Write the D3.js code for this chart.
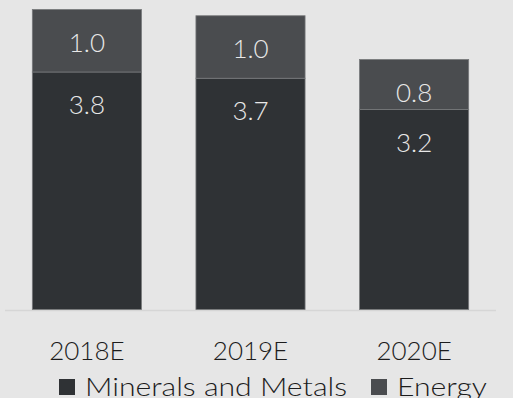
<!DOCTYPE html>
<html>
<head>
<meta charset="utf-8">
<script src="https://cdn.jsdelivr.net/npm/d3@7"></script>
<style>
  html, body { margin: 0; padding: 0; background: #e6e6e6; }
  svg { display: block; font-family: Lato, "Open Sans", sans-serif; font-weight: 300; }
</style>
</head>
<body>
<svg id="chart" width="513" height="398"></svg>
<script>
// Stacked revenue estimates by year
const categories = ["2018E", "2019E", "2020E"];
const seriesNames = ["Minerals and Metals", "Energy"];
const mineralsMetals = [3.8, 3.7, 3.2];
const energy = [1.0, 1.0, 0.8];
const colors = ["#2f3235", "#4a4c4f"];

const rows = categories.map((c, i) => ({
  cat: c,
  "Minerals and Metals": mineralsMetals[i],
  "Energy": energy[i]
}));

const svg = d3.select("#chart");

const x = d3.scaleBand()
  .domain(categories)
  .range([5, 496])
  .paddingInner(0.333)
  .paddingOuter(0.167);

const y = d3.scaleLinear()
  .domain([0, 4.8])
  .range([309.5, 9.5]);

const stacked = d3.stack().keys(seriesNames)(rows);

// baseline rule
svg.append("line")
  .attr("x1", 5).attr("x2", 496)
  .attr("y1", 310.5).attr("y2", 310.5)
  .attr("stroke", "#d6d6d6")
  .attr("stroke-width", 1.5);

const layer = svg.selectAll("g.layer")
  .data(stacked)
  .join("g")
  .attr("class", "layer")
  .attr("fill", (d, i) => colors[i]);

layer.selectAll("rect")
  .data(d => d)
  .join("rect")
  .attr("x", d => x(d.data.cat))
  .attr("width", x.bandwidth())
  .attr("y", d => y(d[1]))
  .attr("height", d => y(d[0]) - y(d[1]))
  .attr("stroke", "#77797b")
  .attr("stroke-width", 0.8);

// value labels near the top of each segment
layer.selectAll("text")
  .data(d => d.map(v => ({ v, key: d.key })))
  .join("text")
  .attr("x", d => x(d.v.data.cat) + x.bandwidth() / 2)
  .attr("y", d => y(d.v[1]) + 32)
  .attr("text-anchor", "middle")
  .attr("dominant-baseline", "central")
  .attr("fill", "#e8e8e8")
  .attr("font-size", 26)
  .text(d => d3.format(".1f")(d.v.data[d.key]));

// category labels
const xAxis = d3.axisBottom(x).tickSize(0).tickPadding(0);
const gx = svg.append("g")
  .attr("transform", "translate(0,341)")
  .call(xAxis);
gx.select(".domain").remove();
gx.selectAll("text")
  .attr("font-family", "Lato, 'Open Sans', sans-serif")
  .attr("font-weight", 300)
  .attr("font-size", 26)
  .attr("fill", "#1c1c1c")
  .attr("dy", "0.72em");

// legend
const legendX = [59, 371];
const legendTextWidth = [262, 90];
const legend = svg.selectAll("g.legend")
  .data(seriesNames)
  .join("g")
  .attr("class", "legend")
  .attr("transform", (d, i) => `translate(${legendX[i]},379)`);
legend.append("rect")
  .attr("width", 16).attr("height", 16)
  .attr("fill", (d, i) => colors[i]);
legend.append("text")
  .attr("x", 26)
  .attr("y", 17)
  .attr("font-size", 26)
  .attr("fill", "#1c1c1c")
  .attr("textLength", (d, i) => legendTextWidth[i])
  .attr("lengthAdjust", "spacingAndGlyphs")
  .text(d => d);
</script>
</body>
</html>
